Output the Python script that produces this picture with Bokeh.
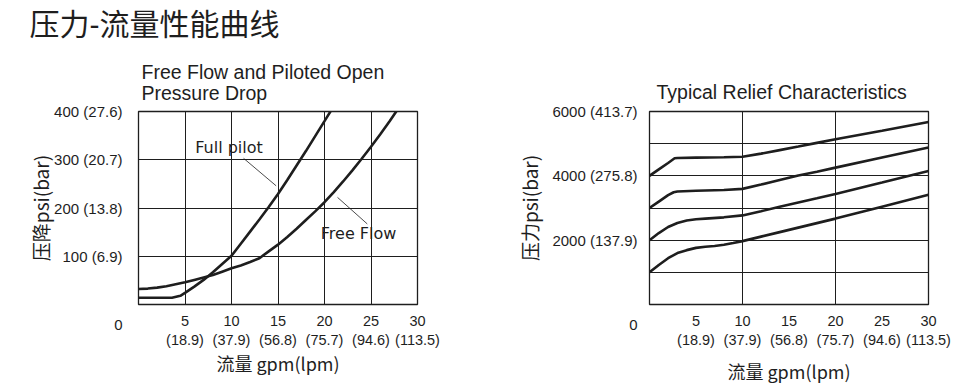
from bokeh.plotting import figure
from bokeh.models import Range1d, FixedTicker, Label, Title
from bokeh.layouts import row
from bokeh.embed import file_html
from bokeh.resources import INLINE

# ---------------- data ----------------
flow_ticks = [5, 10, 15, 20, 25, 30]
flow_tick_labels = ["5\n(18.9)", "10\n(37.9)", "15\n(56.8)", "20\n(75.7)", "25\n(94.6)", "30\n(113.5)"]

drop_ticks = [0, 100, 200, 300, 400]
drop_tick_labels = ["\n\n0", "100 (6.9)", "200 (13.8)", "300 (20.7)", "400 (27.6)"]
drop_grid = [100, 200, 300]

pilot_x = [0, 2, 3.6, 4.5, 5, 6, 7, 8, 9, 10, 11, 12, 13, 14, 15, 16, 17, 18, 19, 20, 20.8]
pilot_y = [14, 14, 14, 18, 24, 37, 51, 67, 84, 101, 126, 151, 176, 202, 229, 258, 288, 318, 349, 380, 405]

free_x = [0, 1, 2, 3, 4, 5, 6, 7, 8, 9, 10, 11, 12, 13, 14, 15, 16, 17, 18, 19, 20, 21, 22, 23, 24, 25, 26, 27, 28]
free_y = [32, 33, 35, 38, 42, 46, 51, 56, 61, 68, 75, 81, 88, 96, 110, 124, 140, 157, 175, 193, 212, 233, 255, 278, 302, 327, 353, 380, 408]

note_text = ["Full pilot", "Free Flow"]
note_x = [6.1, 19.6]
note_y = [325, 147]
leader_x0 = [11.3, 21.4]
leader_y0 = [303, 222]
leader_x1 = [14.8, 24.6]
leader_y1 = [246, 167]

relief_ticks = [0, 2000, 4000, 6000]
relief_tick_labels = ["\n\n0", "2000 (137.9)", "4000 (275.8)", "6000 (413.7)"]
relief_grid = [1000, 2000, 3000, 4000, 5000]

r1_x = [0, 1, 2, 2.7, 3, 5, 8, 10, 12, 14, 16, 18, 20, 25, 30]
r1_y = [4000, 4200, 4400, 4545, 4555, 4565, 4580, 4594, 4690, 4800, 4910, 5025, 5137, 5400, 5674]
r2_x = [0, 1, 2, 2.6, 3, 5, 8, 10, 12, 14, 16, 18, 20, 25, 30]
r2_y = [3000, 3200, 3400, 3490, 3515, 3535, 3560, 3595, 3730, 3870, 4010, 4130, 4255, 4570, 4880]
r3_x = [0, 1, 2, 3, 4, 5, 6, 8, 10, 12, 14, 16, 18, 20, 25, 30]
r3_y = [2000, 2220, 2410, 2535, 2610, 2650, 2670, 2710, 2770, 2900, 3040, 3170, 3300, 3432, 3790, 4150]
r4_x = [0, 1, 2, 3, 4, 5, 6, 7, 8, 9, 10, 12, 14, 16, 18, 20, 25, 30]
r4_y = [1000, 1230, 1440, 1600, 1690, 1760, 1795, 1820, 1855, 1910, 1970, 2110, 2250, 2390, 2530, 2670, 3040, 3410]

heading = "压力-流量性能曲线"
title_left = "Free Flow and Piloted Open\nPressure Drop"
title_right = "Typical Relief Characteristics"
xlabel = "流量 gpm(lpm)"
ylabel_left = "压降psi(bar)"
ylabel_right = "压力psi(bar)"

INK = "#1e1e1e"
LATIN = "Liberation Sans"
CJK = "Noto Sans CJK SC"
HEAD_FONT = "Liberation Sans, Noto Sans CJK SC"


def style(p, ylabel, ystand, xlab_stand, ylab_stand):
    p.outline_line_color = INK
    p.outline_line_width = 1.3
    p.background_fill_color = "white"
    p.border_fill_color = "white"
    for ax in (p.xaxis[0], p.yaxis[0]):
        ax.axis_line_color = None
        ax.major_tick_line_color = None
        ax.minor_tick_line_color = None
        ax.major_tick_out = 0
        ax.major_tick_in = 0
        ax.major_label_text_color = INK
        ax.major_label_text_font = LATIN
        ax.axis_label_text_font = CJK
        ax.axis_label_text_font_style = "normal"
        ax.axis_label_text_color = INK
    p.xaxis[0].major_label_text_font_size = "14.5px"
    p.yaxis[0].major_label_text_font_size = "15px"
    p.xaxis[0].major_label_standoff = 8
    p.yaxis[0].major_label_standoff = ystand
    p.xaxis[0].axis_label = xlabel
    p.xaxis[0].axis_label_text_font_size = "18px"
    p.xaxis[0].axis_label_standoff = xlab_stand
    p.yaxis[0].axis_label = ylabel
    p.yaxis[0].axis_label_text_font_size = "19px"
    p.yaxis[0].axis_label_standoff = ylab_stand
    for g in (p.xgrid[0], p.ygrid[0]):
        g.grid_line_color = INK
        g.grid_line_width = 1
        g.grid_line_alpha = 1


def chart_title(text, offset, standoff, lh):
    return Title(text=text, text_font=LATIN, text_font_size="19.5px", text_font_style="normal",
                 text_color=INK, align="left", offset=offset, standoff=standoff, text_line_height=lh)


# ---------------- left chart ----------------
p1 = figure(width=490, height=392, output_backend="svg", toolbar_location=None,
            x_range=Range1d(0, 30), y_range=Range1d(0, 400),
            min_border_left=138, min_border_right=73, min_border_top=111, min_border_bottom=88)
style(p1, ylabel_left, 16, -1, -3)
p1.title = Title(text=heading, text_font=HEAD_FONT, text_font_size="30px", text_font_style="normal",
                 text_color=INK, align="left", offset=-109, standoff=2)
p1.add_layout(chart_title(title_left, 3, 14, 0.98), "above")
# empty spacer between the chart title and the page heading
p1.add_layout(Title(text=" ", text_font_size="1px", standoff=7), "above")
p1.xaxis[0].ticker = FixedTicker(ticks=flow_ticks)
p1.xaxis[0].major_label_overrides = dict(zip(flow_ticks, flow_tick_labels))
p1.yaxis[0].ticker = FixedTicker(ticks=drop_ticks)
p1.yaxis[0].major_label_overrides = dict(zip(drop_ticks, drop_tick_labels))
p1.xgrid[0].ticker = FixedTicker(ticks=flow_ticks)
p1.ygrid[0].ticker = FixedTicker(ticks=drop_grid)

p1.line(pilot_x, pilot_y, line_color=INK, line_width=2.6)
p1.line(free_x, free_y, line_color=INK, line_width=2.6)
p1.segment(x0=leader_x0, y0=leader_y0, x1=leader_x1, y1=leader_y1, line_color=INK, line_width=0.8)
for t, x, y in zip(note_text, note_x, note_y):
    p1.add_layout(Label(x=x, y=y, text=t, text_font="DejaVu Sans", text_font_size="16px",
                        text_color=INK, text_baseline="middle", text_align="left"))

# ---------------- right chart ----------------
p2 = figure(width=490, height=392, output_backend="svg", toolbar_location=None,
            x_range=Range1d(0, 30), y_range=Range1d(0, 6000),
            min_border_left=159, min_border_right=52, min_border_top=111, min_border_bottom=88)
style(p2, ylabel_right, 12, 7, 6)
p2.add_layout(chart_title(title_right, 7, 18, 1.0), "above")
p2.xaxis[0].ticker = FixedTicker(ticks=flow_ticks)
p2.xaxis[0].major_label_overrides = dict(zip(flow_ticks, flow_tick_labels))
p2.yaxis[0].ticker = FixedTicker(ticks=relief_ticks)
p2.yaxis[0].major_label_overrides = dict(zip(relief_ticks, relief_tick_labels))
p2.xgrid[0].ticker = FixedTicker(ticks=[10, 20])
p2.ygrid[0].ticker = FixedTicker(ticks=relief_grid)

for xs, ys in ((r1_x, r1_y), (r2_x, r2_y), (r3_x, r3_y), (r4_x, r4_y)):
    p2.line(xs, ys, line_color=INK, line_width=2.6)

layout = row(p1, p2, spacing=0)
open("out.html", "w").write(file_html(layout, INLINE))
